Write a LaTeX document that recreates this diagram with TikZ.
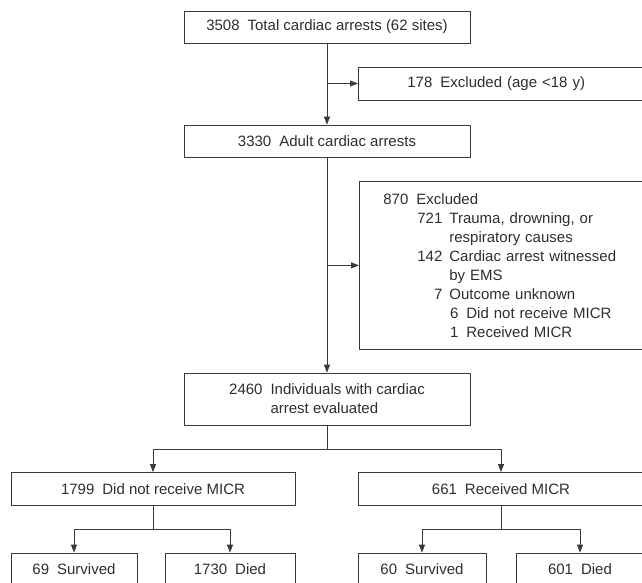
\documentclass[tikz,border=0pt]{standalone}
\usepackage{fontspec}
\setmainfont{Liberation Sans}
\usetikzlibrary{arrows.meta}
\definecolor{linegray}{HTML}{3A3A3A}
\definecolor{textgray}{HTML}{2E2E2E}
\newcommand{\cnt}[1]{#1\hspace{8pt}}

\begin{document}
\begin{tikzpicture}[line join=miter, >={Triangle[length=8pt,width=6pt]}, x=1pt, y=-1pt,
    box/.style={draw=linegray, line width=0.8pt, inner sep=0pt, minimum height=33pt, font=\fontsize{15}{19}\selectfont, text=textgray},
    link/.style={draw=linegray, line width=0.8pt}]
    \useasboundingbox (0,0) rectangle (642,583);
    \clip (0,0) rectangle (642,583);

    \node[box, minimum width=286pt, minimum height=32pt] (total) at (327,27) {\cnt{3508}Total cardiac arrests (62 sites)};
    \node[box, anchor=west, text width=250pt, inner xsep=49pt, align=left] (young) at (358,83.5) {\cnt{178}Excluded (age <18 y)};
    \node[box, minimum width=286pt, minimum height=32pt] (adult) at (327,141) {\cnt{3330}Adult cardiac arrests};
    \node[box, anchor=north west, text width=260pt, inner xsep=24pt, minimum height=168pt, align=left] (excl) at (359,181) {\cnt{870}Excluded\\
        \makebox[59pt][r]{721}\hspace{7pt}Trauma, drowning, or\\
        \hspace*{66pt}respiratory causes\\
        \makebox[59pt][r]{142}\hspace{7pt}Cardiac arrest witnessed\\
        \hspace*{66pt}by EMS\\
        \makebox[59pt][r]{7}\hspace{7pt}Outcome unknown\\
        \makebox[75pt][r]{6}\hspace{8pt}Did not receive MICR\\
        \makebox[75pt][r]{1}\hspace{8pt}Received MICR};
    \node[box, minimum width=286pt, minimum height=52pt, align=left] (eval) at (327,399) {\cnt{2460}Individuals with cardiac\\\hphantom{\cnt{2460}}arrest evaluated};

    \node[box, minimum width=284pt] (nomicr) at (153,489) {\cnt{1799}Did not receive MICR};
    \node[box, minimum width=286pt] (micr) at (501,489) {\cnt{661}Received MICR};

    \node[box, minimum width=126pt] (survno) at (74,569.5) {\cnt{69}Survived};
    \node[box, minimum width=130pt] (diedno) at (230,569.5) {\cnt{1730}Died};
    \node[box, minimum width=128pt] (survyes) at (422,569.5) {\cnt{60}Survived};
    \node[box, minimum width=128pt] (diedyes) at (580,569.5) {\cnt{601}Died};

    % exclusions
    \draw[link, ->] (total) -- (adult);
    \draw[link, ->] (total.south |- young.west) -- (young.west);
    \draw[link, ->] (adult) -- (eval);
    \draw[link, ->] (adult.south |- excl.west) -- (excl.west);

    % split by MICR
    \coordinate (split) at (327,449);
    \draw[link] (eval) -- (split);
    \draw[link, ->] (split) -| (nomicr);
    \draw[link, ->] (split) -| (micr);

    % outcomes
    \coordinate (splitno) at (153,529);
    \coordinate (splityes) at (501,529);
    \draw[link] (nomicr) -- (splitno);
    \draw[link, ->] (splitno) -| (survno);
    \draw[link, ->] (splitno) -| (diedno);
    \draw[link] (micr) -- (splityes);
    \draw[link, ->] (splityes) -| (survyes);
    \draw[link, ->] (splityes) -| (diedyes);
\end{tikzpicture}
\end{document}
